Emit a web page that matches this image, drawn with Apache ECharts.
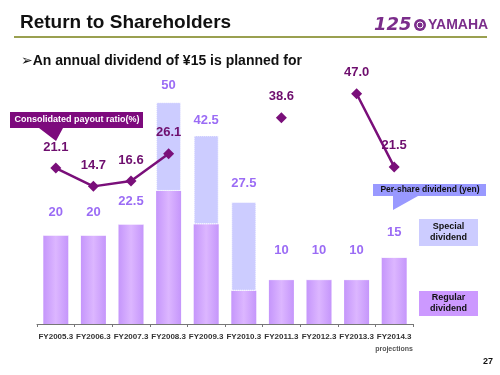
<!DOCTYPE html>
<html>
<head>
<meta charset="utf-8">
<script src="https://cdn.jsdelivr.net/npm/echarts@6/dist/echarts.min.js"></script>
<style>
  html, body { margin: 0; padding: 0; background: #fff; }
  #chart { width: 500px; height: 375px; }
</style>
</head>
<body>
<div id="chart"></div>
<script>
// data
var years = ['FY2005.3', 'FY2006.3', 'FY2007.3', 'FY2008.3', 'FY2009.3',
             'FY2010.3', 'FY2011.3', 'FY2012.3', 'FY2013.3', 'FY2014.3'];
var regularDiv = [20, 20, 22.5, 30, 22.5, 7.5, 10, 10, 10, 15];
var specialDiv = [0, 0, 0, 20, 20, 20, 0, 0, 0, 0];
var totalDiv = [20, 20, 22.5, 50, 42.5, 27.5, 10, 10, 10, 15];
var payoutRatio = [21.1, 14.7, 16.6, 26.1, null, null, 38.6, null, 47.0, 21.5];

// how far each total label sits above its bar (px)
var labelLift = [16, 16, 16, 10, 9, 12, 22, 22, 22, 18];

var chart = echarts.init(document.getElementById('chart'));

var regularColor = {
    type: 'linear', x: 0, y: 0, x2: 1, y2: 0,
    colorStops: [
        { offset: 0, color: '#c596fb' },
        { offset: 0.5, color: '#dcb6ff' },
        { offset: 1, color: '#c596fb' }
    ]
};

var specialData = specialDiv.map(function (v, i) {
    return {
        value: v,
        label: { distance: labelLift[i] }
    };
});

chart.setOption({
    animation: false,
    grid: { left: 37, right: 87, top: 80, bottom: 51 },
    xAxis: {
        type: 'category',
        data: years,
        axisLine: { lineStyle: { color: '#777', width: 1 } },
        axisTick: { show: true, length: 3, lineStyle: { color: '#777' } },
        axisLabel: {
            interval: 0,
            color: '#333', fontSize: 8, fontWeight: 'bold',
            fontFamily: 'Liberation Sans', margin: 9
        }
    },
    yAxis: [
        { type: 'value', min: 0, max: 55, show: false, splitLine: { show: false } },
        { type: 'value', min: -33.3, max: 51.8, show: false, splitLine: { show: false } }
    ],
    series: [
        {
            name: 'Regular dividend',
            type: 'bar',
            stack: 'div',
            barWidth: 25,
            data: regularDiv,
            itemStyle: { color: regularColor }
        },
        {
            name: 'Special dividend',
            type: 'bar',
            stack: 'div',
            barWidth: 25,
            data: specialData,
            itemStyle: {
                color: '#ccccff',
                borderColor: '#ffffff',
                borderWidth: 1,
                borderType: 'dotted'
            },
            label: {
                show: true,
                position: 'top',
                formatter: function (p) { return totalDiv[p.dataIndex]; },
                color: '#9b6cf5',
                fontSize: 13,
                fontWeight: 'bold',
                fontFamily: 'Liberation Sans'
            }
        },
        {
            name: 'Consolidated payout ratio',
            type: 'line',
            yAxisIndex: 1,
            data: payoutRatio,
            connectNulls: false,
            symbol: 'diamond',
            symbolSize: 11,
            lineStyle: { color: '#7a0f7a', width: 2.5 },
            itemStyle: { color: '#7a0f7a' },
            label: {
                show: true,
                position: 'top',
                distance: 9,
                formatter: function (p) { return p.value.toFixed(1); },
                color: '#6e0e6e',
                fontSize: 13,
                fontWeight: 'bold',
                fontFamily: 'Liberation Sans'
            },
            z: 5
        }
    ],
    graphic: [
        {
            type: 'text', left: 20, top: 13,
            style: {
                text: 'Return to Shareholders', fill: '#111',
                font: 'bold 19px "Liberation Sans"'
            }
        },
        {
            type: 'line',
            shape: { x1: 14, y1: 37, x2: 487, y2: 37 },
            style: { stroke: '#9aa050', lineWidth: 2 }
        },
        {
            type: 'text', left: 374, top: 16,
            style: {
                text: '125', fill: '#7b2d8b',
                font: 'italic 900 18px "DejaVu Sans", "Liberation Sans"'
            }
        },
        {
            type: 'circle',
            shape: { cx: 420, cy: 25, r: 6 },
            style: { fill: '#7b2d8b' }
        },
        {
            type: 'circle',
            shape: { cx: 420, cy: 25, r: 3 },
            style: { fill: 'none', stroke: '#fff', lineWidth: 1 }
        },
        {
            type: 'text', left: 428, top: 18,
            style: {
                text: 'YAMAHA', fill: '#7b2d8b',
                font: 'bold 14px "Liberation Sans Narrow", "Liberation Sans"'
            }
        },
        {
            type: 'text', left: 21, top: 54,
            style: {
                text: '\u27A2An annual dividend of \u00A515 is planned for', fill: '#111',
                font: 'bold 14px "Liberation Sans", "DejaVu Sans"'
            }
        },
        // payout ratio callout
        {
            type: 'polygon',
            shape: { points: [[10, 112], [143, 112], [143, 128], [63, 128], [56, 141], [39, 128], [10, 128]] },
            style: { fill: '#7d0a7d' }
        },
        {
            type: 'text', x: 77, y: 120,
            style: {
                text: 'Consolidated payout ratio(%)', fill: '#fff',
                font: 'bold 9px "Liberation Sans"', align: 'center', verticalAlign: 'middle'
            }
        },
        // per-share callout
        {
            type: 'polygon',
            shape: { points: [[373, 184], [486, 184], [486, 196], [418, 196], [393, 210], [393, 196], [373, 196]] },
            style: { fill: '#9999ff' }
        },
        {
            type: 'text', x: 430, y: 190,
            style: {
                text: 'Per-share dividend (yen)', fill: '#111',
                font: 'bold 8.5px "Liberation Sans"', align: 'center', verticalAlign: 'middle'
            }
        },
        // legend boxes
        {
            type: 'rect',
            shape: { x: 419, y: 219, width: 59, height: 27 },
            style: { fill: '#ccccff' }
        },
        {
            type: 'text', x: 448.5, y: 232.5,
            style: {
                text: 'Special\ndividend', fill: '#111', lineHeight: 11,
                font: 'bold 9px "Liberation Sans"', align: 'center', verticalAlign: 'middle'
            }
        },
        {
            type: 'rect',
            shape: { x: 419, y: 291, width: 59, height: 25 },
            style: { fill: '#cc99ff' }
        },
        {
            type: 'text', x: 448.5, y: 303.5,
            style: {
                text: 'Regular\ndividend', fill: '#111', lineHeight: 11,
                font: 'bold 9px "Liberation Sans"', align: 'center', verticalAlign: 'middle'
            }
        },
        {
            type: 'text', x: 394, y: 349,
            style: {
                text: 'projections', fill: '#555',
                font: 'bold 7px "Liberation Sans"', align: 'center', verticalAlign: 'middle'
            }
        },
        {
            type: 'text', x: 493, y: 362,
            style: {
                text: '27', fill: '#111',
                font: 'bold 9px "Liberation Sans"', align: 'right', verticalAlign: 'middle'
            }
        }
    ]
});
</script>
</body>
</html>
